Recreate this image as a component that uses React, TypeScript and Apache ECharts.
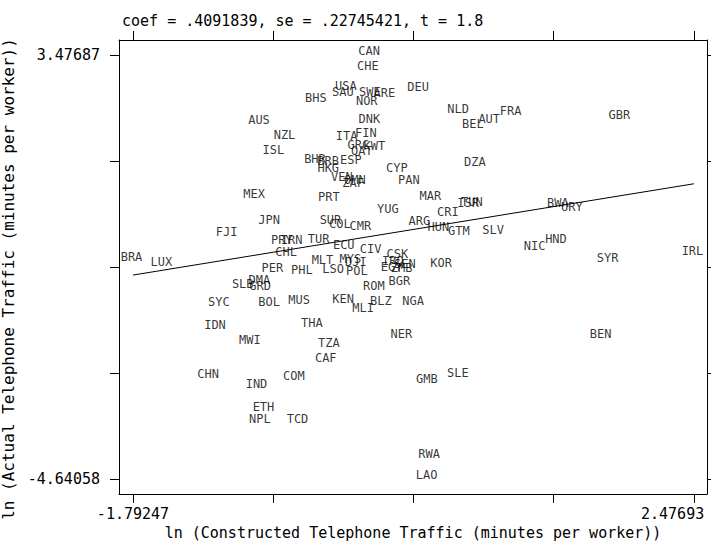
import React, { useEffect, useRef } from "react";
import * as echarts from "echarts";

const countries = [
  "CAN", "CHE", "USA", "SAU", "SWE", "ARE", "BHS", "NOR", "DEU", "DNK",
  "AUS", "NZL", "ITA", "FIN", "GRC", "KWT", "QAT", "ISL", "BHR", "BRB",
  "ESP", "HKG", "CYP", "VEN", "OMN", "ZAF", "PAN", "NLD", "BEL", "AUT",
  "FRA", "GBR", "DZA", "MEX", "PRT", "MAR", "YUG", "CRI", "ISR", "TUN",
  "BWA", "URY", "JPN", "SUR", "COL", "CMR", "ARG", "HUN", "GTM", "SLV",
  "NIC", "HND", "SYR", "IRL", "KOR", "NGA", "NER", "BEN", "SLE", "GMB",
  "FJI", "BRA", "LUX", "ECU", "CIV", "CSK", "MLT", "MYS", "DJI", "LSO",
  "POL", "IRQ", "SEN", "EGY", "ZMB", "ROM", "BGR", "KEN", "MLI", "BLZ",
  "PRY", "IRN", "TUR", "CHL", "PER", "PHL", "DMA", "GRD", "SLB", "SYC",
  "BOL", "MUS", "IDN", "THA", "MWI", "TZA", "CAF", "CHN", "IND", "COM",
  "ETH", "NPL", "TCD", "RWA", "LAO",
];

// x: ln constructed telephone traffic (residual)
const xValues = [
  0.016, 0.006, -0.161, -0.184, 0.021, 0.132, -0.390, -0.002, 0.389, 0.018,
  -0.822, -0.628, -0.156, -0.009, -0.066, 0.056, -0.040, -0.712, -0.396, -0.296,
  -0.123, -0.295, 0.227, -0.192, -0.093, -0.106, 0.318, 0.694, 0.806, 0.930,
  1.093, 1.920, 0.821, -0.860, -0.291, 0.482, 0.158, 0.615, 0.770, 0.798,
  1.453, 1.559, -0.745, -0.278, -0.207, -0.050, 0.398, 0.543, 0.699, 0.960,
  1.275, 1.438, 1.831, 2.47693, 0.564, 0.351, 0.261, 1.778, 0.691, 0.455,
  -1.068, -1.79247, -1.565, -0.177, 0.027, 0.231, -0.339, -0.126, -0.085, -0.258,
  -0.078, 0.196, 0.288, 0.187, 0.263, 0.052, 0.246, -0.182, -0.030, 0.105,
  -0.649, -0.573, -0.369, -0.615, -0.720, -0.496, -0.819, -0.814, -0.946, -1.128,
  -0.745, -0.517, -1.157, -0.420, -0.892, -0.291, -0.314, -1.210, -0.841, -0.557,
  -0.788, -0.816, -0.529, 0.473, 0.453,
];

// y: ln actual telephone traffic (residual)
const yValues = [
  3.47687, 3.196, 2.807, 2.698, 2.698, 2.668, 2.583, 2.520, 2.779, 2.170,
  2.157, 1.870, 1.851, 1.902, 1.679, 1.669, 1.573, 1.583, 1.405, 1.382,
  1.401, 1.229, 1.229, 1.072, 1.009, 0.946, 1.009, 2.362, 2.080, 2.182,
  2.335, 2.247, 1.348, 0.741, 0.678, 0.703, 0.454, 0.402, 0.563, 0.594,
  0.575, 0.498, 0.244, 0.244, 0.167, 0.129, 0.225, 0.119, 0.024, 0.052,
  -0.248, -0.126, -0.489, -0.344, -0.585, -1.300, -1.943, -1.943, -2.689, -2.804,
  0.008, -0.470, -0.554, -0.235, -0.317, -0.401, -0.522, -0.508, -0.560, -0.699,
  -0.726, -0.535, -0.598, -0.650, -0.680, -1.019, -0.927, -1.273, -1.446, -1.306,
  -0.148, -0.139, -0.124, -0.363, -0.669, -0.707, -0.904, -1.019, -0.986, -1.319,
  -1.319, -1.287, -1.771, -1.721, -2.052, -2.104, -2.391, -2.708, -2.894, -2.741,
  -3.328, -3.569, -3.569, -4.239, -4.64058,
];

// fitted line (slope = coef .4091839 through the origin)
const fitX = [-1.79247, 2.47693];
const fitY = [-0.73345, 1.01352];

const xTicks = [-1.79247, -0.72512, 0.34223, 1.40958, 2.47693];
const yTicks = [3.47687, 1.44751, -0.58186, -2.61122, -4.64058];
const xTickLabels = ["-1.79247", "2.47693"];
const yTickLabels = ["3.47687", "-4.64058"];

const titleText = "coef = .4091839, se = .22745421, t = 1.8";
const xTitle = "ln (Constructed Telephone Traffic (minutes per worker))";
const yTitle = "ln (Actual Telephone Traffic (minutes per worker))";

const FONT = "DejaVu Sans Mono";

export default function App() {
  const ref = useRef<HTMLDivElement>(null);
  useEffect(() => {
    if (!ref.current) return;
    const chart = echarts.init(ref.current, undefined, { renderer: "svg" });
    const xMin = -1.899, xMax = 2.576, yMin = -4.922, yMax = 3.764;
    const tickStyle = { show: true, inside: false, length: 9, lineStyle: { color: "#000", width: 1 } };
    const lineStyle = { show: true, onZero: false, lineStyle: { color: "#000", width: 1 } };
    const xLabelVals = xTickLabels.map(Number);
    const yLabelVals = yTickLabels.map(Number);
    chart.setOption({
      animation: false,
      backgroundColor: "#fff",
      title: {
        text: titleText,
        left: 117,
        top: 8,
        textStyle: { fontFamily: FONT, fontSize: 15, fontWeight: "normal", color: "#000" },
      },
      grid: {
        left: 119, top: 40, width: 588, height: 454,
        containLabel: false, outerBoundsMode: "none",
      },
      xAxis: [
        {
          type: "value", min: xMin, max: xMax, position: "bottom",
          axisLine: lineStyle,
          axisTick: { ...tickStyle, customValues: xTicks },
          splitLine: { show: false },
          axisLabel: {
            customValues: xLabelVals,
            margin: 12,
            fontFamily: FONT, fontSize: 15, color: "#000",
            formatter: (v: number) => {
              const i = xLabelVals.findIndex((t) => Math.abs(t - v) < 1e-6);
              const s = i >= 0 ? xTickLabels[i] : "";
              return i === xLabelVals.length - 1 ? "{r|" + s + "}" : s;
            },
            rich: { r: { fontFamily: FONT, fontSize: 15, color: "#000", width: 106, align: "left" } },
          },
          name: xTitle,
          nameLocation: "middle",
          nameGap: 30,
          nameTextStyle: { fontFamily: FONT, fontSize: 15, color: "#000" },
        },
        {
          type: "value", min: xMin, max: xMax, position: "top",
          axisLine: lineStyle,
          axisTick: { ...tickStyle, customValues: xTicks },
          splitLine: { show: false },
          axisLabel: { show: false },
        },
      ],
      yAxis: [
        {
          type: "value", min: yMin, max: yMax, position: "left",
          axisLine: lineStyle,
          axisTick: { ...tickStyle, customValues: yTicks },
          splitLine: { show: false },
          axisLabel: {
            customValues: yLabelVals,
            margin: 19,
            fontFamily: FONT, fontSize: 15, color: "#000",
            formatter: (v: number) => {
              const i = yLabelVals.findIndex((t) => Math.abs(t - v) < 1e-6);
              return i >= 0 ? yTickLabels[i] : "";
            },
          },
          name: yTitle,
          nameLocation: "middle",
          nameGap: 100,
          nameTextStyle: { fontFamily: FONT, fontSize: 16, color: "#000", padding: [0, 24, 0, 0] },
        },
        {
          type: "value", min: yMin, max: yMax, position: "right",
          axisLine: lineStyle,
          axisTick: { ...tickStyle, customValues: yTicks },
          splitLine: { show: false },
          axisLabel: { show: false },
        },
      ],
      series: [
        {
          type: "scatter",
          xAxisIndex: 0,
          yAxisIndex: 0,
          symbol: "circle",
          symbolSize: 1,
          itemStyle: { color: "rgba(0,0,0,0)" },
          label: {
            show: true,
            position: "inside",
            offset: [-1.5, -4],
            formatter: (p: any) => p.name,
            fontFamily: FONT,
            fontSize: 12,
            color: "#000",
          },
          emphasis: { disabled: true },
          data: countries.map((c, i) => ({ name: c, value: [xValues[i], yValues[i]] })),
          z: 3,
        },
        {
          type: "line",
          xAxisIndex: 0,
          yAxisIndex: 0,
          symbol: "none",
          lineStyle: { color: "#000", width: 1 },
          data: fitX.map((x, i) => [x, fitY[i]]),
          z: 2,
        },
      ],
    });
    return () => chart.dispose();
  }, []);
  return <div ref={ref} style={{ position: "fixed", left: 0, top: 0, width: 711, height: 544 }} />;
}
